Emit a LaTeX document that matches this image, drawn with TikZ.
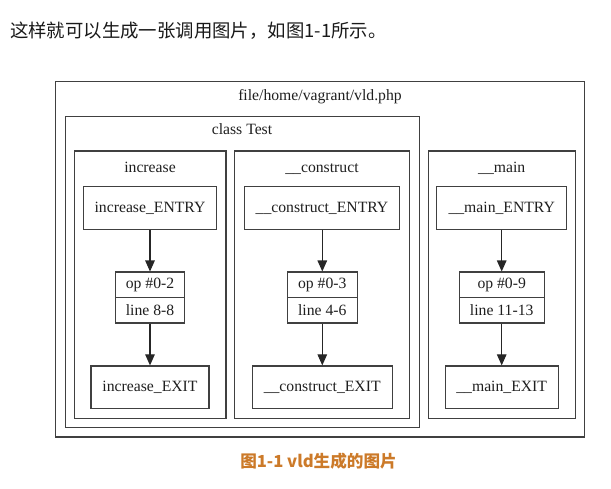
\documentclass[tikz,border=0pt]{standalone}
\usepackage{fontspec}
\setmainfont{Liberation Serif}
\newfontfamily\cjkfont{Noto Sans CJK SC}
\usepackage{tikz}
\usetikzlibrary{positioning}
\usetikzlibrary{arrows.meta}
\definecolor{capcol}{RGB}{204,122,41}
\tikzset{box/.style={draw=black!75, line width=1.1pt, inner sep=0pt, minimum height=42.5pt, text=black!88, font=\fontsize{15.7}{18}\selectfont}}
\tikzset{half/.style={box, minimum height=25.5pt}}
\tikzset{cluster/.style={draw=black!75, line width=1.1pt}}
\tikzset{lbl/.style={inner sep=0pt, text=black!88, font=\fontsize{15.7}{18}\selectfont}}
\tikzset{flow/.style={draw=black!85, line width=1.1pt, -{Triangle[length=11pt,width=9.5pt]}}}

\begin{document}
\begin{tikzpicture}[x=1pt,y=-1pt]
\useasboundingbox (0,0) rectangle (611,489);
\node[anchor=west, inner sep=0pt, text=black!90, font=\cjkfont\fontsize{18.4}{20}\selectfont] (intro) at (10,31) {这样就可以生成一张调用图片，如图1-1所示。};
% clusters
\draw[cluster] (55.5,81.5) rectangle (584.5,437);
\draw[cluster] (65.3,116.5) rectangle (419.3,427.5);
\draw[cluster] (74.3,151) rectangle (226,418.5);
\draw[cluster] (234.7,151) rectangle (409.3,418.5);
\draw[cluster] (428.5,151) rectangle (575.7,418.5);
\node[lbl, anchor=base] (file) at (320,101) {file/home/vagrant/vld.php};
\node[lbl, anchor=base] (cls) at (242,135) {class Test};
\node[lbl, anchor=base] (incName) at (150,172.5) {increase};
\node[lbl, anchor=base] (conName) at (322,172.5) {\_\_construct};
\node[lbl, anchor=base] (mainName) at (501.7,172.5) {\_\_main};
% increase
\node[box, minimum width=133.4pt] (incEntry) at (150,208) {increase\_ENTRY};
\node[half, minimum width=68.6pt] (incOp) at (150,284.8) {op \#0-2};
\node[half, minimum width=68.6pt] (incLine) at (150,310.3) {line 8-8};
\node[box, minimum width=118pt] (incExit) at (150,387.2) {increase\_EXIT};
% __construct
\node[box, minimum width=155.4pt] (conEntry) at (322,208) {\_\_construct\_ENTRY};
\node[half, minimum width=70pt] (conOp) at (322.3,284.8) {op \#0-3};
\node[half, minimum width=70pt] (conLine) at (322.3,310.3) {line 4-6};
\node[box, minimum width=140.3pt] (conExit) at (322.2,387.2) {\_\_construct\_EXIT};
% __main
\node[box, minimum width=130pt] (mainEntry) at (501.7,208) {\_\_main\_ENTRY};
\node[half, minimum width=84.7pt] (mainOp) at (501.7,284.8) {op \#0-9};
\node[half, minimum width=84.7pt] (mainLine) at (501.7,310.3) {line 11-13};
\node[box, minimum width=113.3pt] (mainExit) at (501.7,387.2) {\_\_main\_EXIT};
\draw[flow] (incEntry) -- (incOp);
\draw[flow] (incLine) -- (incExit);
\draw[flow] (conEntry.south -| conOp) -- (conOp);
\draw[flow] (conLine) -- (conExit.north -| conLine);
\draw[flow] (mainEntry) -- (mainOp);
\draw[flow] (mainLine) -- (mainExit);
\node[inner sep=0pt, text=capcol, font=\cjkfont\bfseries\fontsize{16.6}{19}\selectfont] (caption) at (318.5,461) {图1-1 vld生成的图片};
\end{tikzpicture}
\end{document}
